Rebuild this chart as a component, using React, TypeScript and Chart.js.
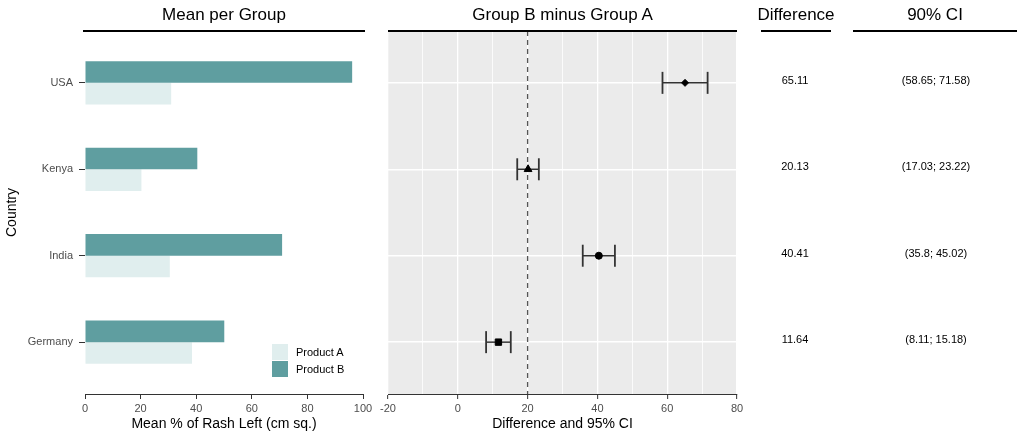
import React, { useEffect, useRef } from 'react';
import { Chart, registerables } from 'chart.js';

Chart.register(...registerables);

// ---------- data ----------
const countries = ['USA', 'Kenya', 'India', 'Germany'];
const productA = [31.0, 20.3, 30.5, 38.5];
const productB = [96.1, 40.4, 70.9, 50.1];
const diffEst = [65.11, 20.13, 40.41, 11.64];
const ciLow = [58.65, 17.03, 35.8, 8.11];
const ciHigh = [71.58, 23.22, 45.02, 15.18];
const markerStyles = ['rectRot', 'triangle', 'circle', 'rect'];
const markerSizes = [3.5, 4.5, 3.5, 4.5];
const seriesNames = ['Product A', 'Product B'];
const seriesColors = ['#e0eeee', '#5f9ea0'];
const refLine = 20;
const leftRange = [0, 100];
const leftStep = 20;
const diffRange = [-20, 80];
const diffMajorStep = 20;
const diffMinorStep = 10;
const titles = ['Mean per Group', 'Group B minus Group A', 'Difference', '90% CI'];
const axisTitles = ['Country', 'Mean % of Rash Left (cm sq.)', 'Difference and 95% CI'];

// ---------- layout ----------
const FONT = "'Liberation Sans', Arial, Helvetica, sans-serif";
const PLOT_TOP = 31;
const PLOT_BOTTOM = 394;
const Y_MIN = -0.6;
const Y_MAX = countries.length - 1 + 0.6;
const yPix = (v: number) => PLOT_TOP + ((v - Y_MIN) / (Y_MAX - Y_MIN)) * (PLOT_BOTTOM - PLOT_TOP);

const tickLabelColor = '#4d4d4d';
const axisColor = '#333333';

function fixedTicks(scale: any) {
  scale.ticks = countries.map((_, i) => ({ value: i }));
}

export default function App() {
  const leftRef = useRef<HTMLCanvasElement>(null);
  const midRef = useRef<HTMLCanvasElement>(null);

  useEffect(() => {
    Chart.defaults.font.family = FONT;
    const left = new Chart(leftRef.current as HTMLCanvasElement, {
      type: 'bar',
      data: {
        datasets: [
          {
            label: seriesNames[1],
            data: countries.map((_, i) => ({ x: productB[i], y: i })),
            backgroundColor: seriesColors[1],
            categoryPercentage: 0.5,
            barPercentage: 1,
          },
          {
            label: seriesNames[0],
            data: countries.map((_, i) => ({ x: productA[i], y: i })),
            backgroundColor: seriesColors[0],
            categoryPercentage: 0.5,
            barPercentage: 1,
          },
        ] as any,
      },
      options: {
        indexAxis: 'y',
        animation: false,
        responsive: false,
        maintainAspectRatio: false,
        layout: { padding: { top: PLOT_TOP, right: 17, left: 0, bottom: 0 } },
        plugins: { legend: { display: false }, tooltip: { enabled: false } },
        scales: {
          y: {
            type: 'linear',
            min: Y_MIN,
            max: Y_MAX,
            reverse: true,
            offset: false,
            afterBuildTicks: fixedTicks,
            afterFit: (s: any) => { s.width = 85; },
            ticks: {
              callback: (v: any) => countries[v as number] ?? '',
              color: tickLabelColor,
              font: { size: 11 },
              padding: 6,
            },
            grid: { offset: false, drawOnChartArea: false, drawTicks: true, tickLength: 6, tickColor: axisColor, tickWidth: 1 },
            border: { display: false },
            title: { display: true, text: axisTitles[0], color: '#000', font: { size: 14 }, padding: { top: 4, bottom: 0 } },
          },
          x: {
            type: 'linear',
            min: leftRange[0],
            max: leftRange[1],
            afterFit: (s: any) => { s.height = 439 - PLOT_BOTTOM; },
            ticks: { stepSize: leftStep, color: tickLabelColor, font: { size: 11 }, padding: 3 },
            grid: { drawOnChartArea: false, drawTicks: true, tickLength: 5, tickColor: axisColor, tickWidth: 1 },
            border: { display: true, color: axisColor, width: 1 },
            title: { display: true, text: axisTitles[1], color: '#000', font: { size: 14 }, padding: { top: 0, bottom: 6 } },
          },
        },
      } as any,
    });

    const bgPlugin = {
      id: 'panelBg',
      beforeDraw(chart: any) {
        const { ctx, chartArea } = chart;
        ctx.save();
        ctx.fillStyle = '#ebebeb';
        ctx.fillRect(chartArea.left, chartArea.top, chartArea.right - chartArea.left, chartArea.bottom - chartArea.top);
        ctx.restore();
      },
    };

    const mid = new Chart(midRef.current as HTMLCanvasElement, {
      type: 'scatter',
      data: {
        datasets: [
          ...countries.map((c, i) => ({
            type: 'line',
            label: c + ' CI',
            data: [{ x: ciLow[i], y: i }, { x: ciHigh[i], y: i }],
            borderColor: axisColor,
            borderWidth: 1.5,
            showLine: true,
            pointStyle: 'line',
            pointRotation: 90,
            pointRadius: 11,
            pointBorderWidth: 1.8,
            pointBorderColor: axisColor,
            pointBackgroundColor: axisColor,
            order: 1,
          })),
          {
            type: 'scatter',
            label: 'Estimate',
            data: countries.map((_, i) => ({ x: diffEst[i], y: i })),
            pointStyle: markerStyles,
            pointRadius: markerSizes,
            backgroundColor: '#000',
            borderColor: '#000',
            borderWidth: 1,
            order: 0,
          },
          {
            type: 'line',
            label: 'Reference',
            data: [{ x: refLine, y: Y_MIN }, { x: refLine, y: Y_MAX }],
            borderColor: '#555555',
            borderDash: [5, 4],
            borderWidth: 1.3,
            pointRadius: 0,
            showLine: true,
            order: 2,
          },
        ] as any,
      },
      options: {
        animation: false,
        responsive: false,
        maintainAspectRatio: false,
        layout: { padding: { top: PLOT_TOP, right: 13, left: 0, bottom: 0 } },
        plugins: { legend: { display: false }, tooltip: { enabled: false } },
        scales: {
          y: {
            type: 'linear',
            min: Y_MIN,
            max: Y_MAX,
            reverse: true,
            afterBuildTicks: fixedTicks,
            afterFit: (s: any) => { s.width = 18; },
            ticks: { display: false },
            grid: { color: '#ffffff', lineWidth: 1.5, drawTicks: false },
            border: { display: false },
          },
          x: {
            type: 'linear',
            min: diffRange[0],
            max: diffRange[1],
            afterFit: (s: any) => { s.height = 439 - PLOT_BOTTOM; },
            ticks: {
              stepSize: diffMinorStep,
              autoSkip: false,
              maxRotation: 0,
              color: tickLabelColor,
              font: { size: 11 },
              padding: 3,
              callback: (v: any) => (Math.round(v) % diffMajorStep === 0 ? String(v) : ''),
            },
            grid: {
              color: '#ffffff',
              lineWidth: (ctx: any) => (ctx.tick && Math.round(ctx.tick.value) % diffMajorStep === 0 ? 1.3 : 0.8),
              drawTicks: true,
              tickLength: 5,
              tickWidth: 1,
              tickColor: (ctx: any) => (ctx.tick && Math.round(ctx.tick.value) % diffMajorStep === 0 ? axisColor : 'rgba(0,0,0,0)'),
            },
            border: { display: true, color: axisColor, width: 1 },
            title: { display: true, text: axisTitles[2], color: '#000', font: { size: 14 }, padding: { top: 0, bottom: 6 } },
          },
        },
      } as any,
      plugins: [bgPlugin],
    });

    return () => {
      left.destroy();
      mid.destroy();
    };
  }, []);

  const headerStyle = (cx: number): React.CSSProperties => ({
    position: 'absolute',
    left: cx - 150,
    width: 300,
    top: 0,
    height: 30,
    lineHeight: '30px',
    textAlign: 'center',
    fontSize: 17,
    fontFamily: FONT,
    color: '#000',
    whiteSpace: 'nowrap',
  });
  const ruleStyle = (x0: number, x1: number): React.CSSProperties => ({
    position: 'absolute',
    left: x0,
    width: x1 - x0,
    top: 30,
    height: 2,
    background: '#000',
  });
  const cellStyle = (cx: number, cy: number): React.CSSProperties => ({
    position: 'absolute',
    left: cx - 80,
    width: 160,
    top: cy - 3 - 10,
    height: 20,
    lineHeight: '20px',
    textAlign: 'center',
    fontSize: 11,
    fontFamily: FONT,
    color: '#000',
    whiteSpace: 'nowrap',
  });

  return (
    <div style={{ position: 'absolute', left: 0, top: 0, width: 1024, height: 439, background: '#fff', overflow: 'hidden' }}>
      <canvas ref={leftRef} width={380} height={439} style={{ position: 'absolute', left: 0, top: 0, width: 380, height: 439 }} />
      <canvas ref={midRef} width={380} height={439} style={{ position: 'absolute', left: 370, top: 0, width: 380, height: 439 }} />

      <div style={headerStyle(224)}>{titles[0]}</div>
      <div style={ruleStyle(83, 365)} />
      <div style={headerStyle(562.5)}>{titles[1]}</div>
      <div style={ruleStyle(388, 737)} />
      <div style={headerStyle(796)}>{titles[2]}</div>
      <div style={ruleStyle(761, 831)} />
      <div style={headerStyle(935)}>{titles[3]}</div>
      <div style={ruleStyle(853, 1017)} />

      {countries.map((c, i) => (
        <div key={'d' + c} style={cellStyle(795, yPix(i))}>{diffEst[i].toFixed(2)}</div>
      ))}
      {countries.map((c, i) => (
        <div key={'c' + c} style={cellStyle(936, yPix(i))}>{`(${ciLow[i]}; ${ciHigh[i]})`}</div>
      ))}

      {seriesNames.map((name, i) => (
        <React.Fragment key={name}>
          <div style={{ position: 'absolute', left: 272, top: 344 + i * 17, width: 16, height: 16, background: seriesColors[i] }} />
          <div style={{ position: 'absolute', left: 296, top: 344 + i * 17 - 1, height: 18, lineHeight: '18px', fontSize: 11, fontFamily: FONT, color: '#000', whiteSpace: 'nowrap' }}>{name}</div>
        </React.Fragment>
      ))}
    </div>
  );
}
